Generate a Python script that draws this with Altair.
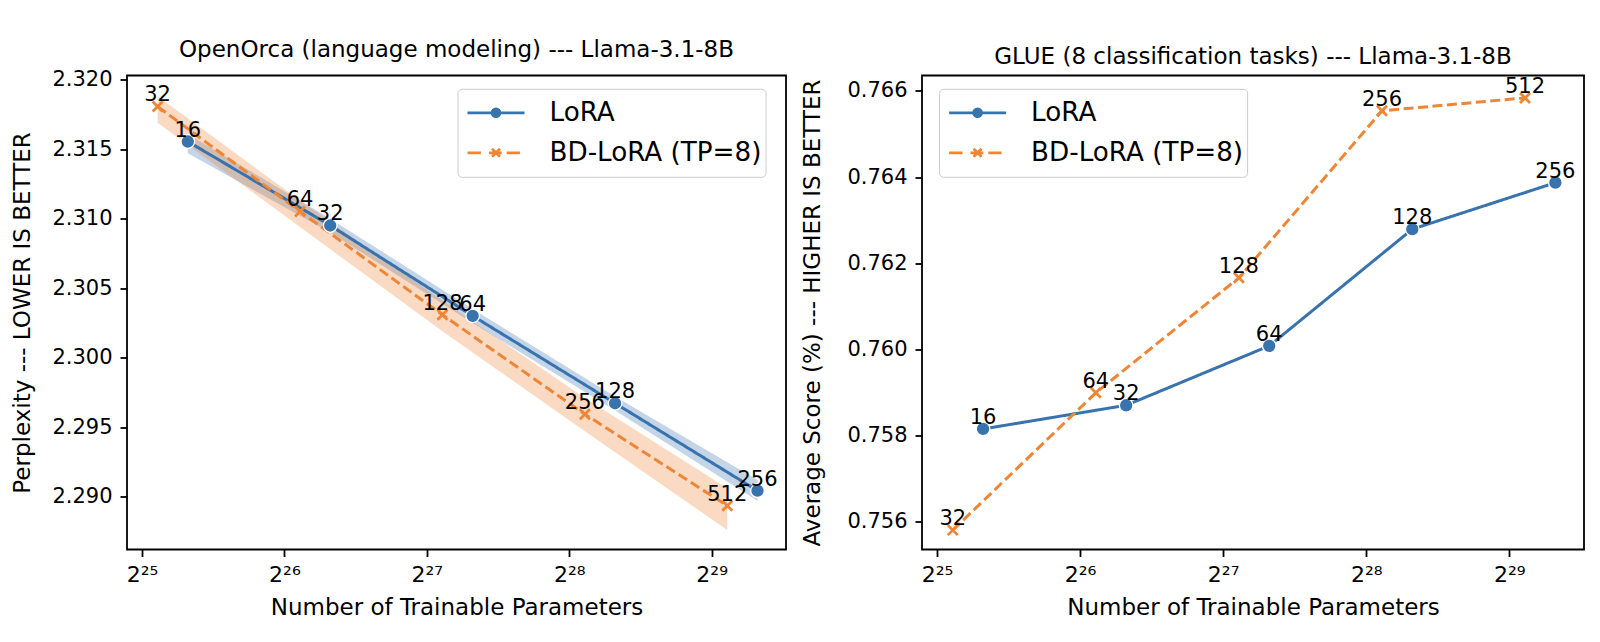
import altair as alt
import pandas as pd

FONT = "DejaVu Sans"
SERIES = ["LoRA", "BD-LoRA (TP=8)"]
COLORS = ["#3873ae", "#ee8636"]

# LoRA ranks / BD-LoRA ranks and their trainable parameter counts
lora_rank = [16, 32, 64, 128, 256]
bd_rank = [32, 64, 128, 256, 512]
lora_params = [41_943_040, 83_886_080, 167_772_160, 335_544_320, 671_088_640]
bd_params = [36_210_000, 72_420_000, 144_840_000, 289_680_000, 579_360_000]

# OpenOrca perplexity (with uncertainty band)
lora_ppl = [2.31555, 2.30951, 2.30301, 2.29672, 2.29043]
lora_ppl_lo = [2.3147, 2.3090, 2.3025, 2.2962, 2.2897]
lora_ppl_hi = [2.3161, 2.3100, 2.3035, 2.2972, 2.2912]
bd_ppl = [2.31807, 2.31052, 2.30308, 2.29593, 2.28935]
bd_ppl_lo = [2.3169, 2.3094, 2.3019, 2.2947, 2.2876]
bd_ppl_hi = [2.3188, 2.3113, 2.3041, 2.2971, 2.2906]

# GLUE average score
lora_glue = [0.75815, 0.75870, 0.76008, 0.76279, 0.76387]
bd_glue = [0.75580, 0.75899, 0.76166, 0.76554, 0.76584]

x_ticks = [2 ** e for e in range(25, 30)]
ppl_ticks = [2.290, 2.295, 2.300, 2.305, 2.310, 2.315, 2.320]
glue_ticks = [0.756, 0.758, 0.760, 0.762, 0.764, 0.766]

# legend keys: line with marker drawn as one stroked path
LORA_KEY = ("M-1,0L1,0"
            "M0.139,0A0.139,0.139,0,1,1,-0.139,0A0.139,0.139,0,1,1,0.139,0"
            "M0.06,0A0.06,0.06,0,1,1,-0.06,0A0.06,0.06,0,1,1,0.06,0")
BD_KEY = ("M-1,0L-0.53,0M-0.25,0L0.2,0M0.375,0L0.84,0"
          "M-0.14,-0.14L0.14,0.14M-0.14,0.14L0.14,-0.14")
X_MARK = "M-1,-1L1,1M-1,1L1,-1"

n = len(lora_rank)
ppl_df = pd.DataFrame({
    "series": [SERIES[0]] * n + [SERIES[1]] * n,
    "rank": lora_rank + bd_rank,
    "params": lora_params + bd_params,
    "value": lora_ppl + bd_ppl,
    "lo": lora_ppl_lo + bd_ppl_lo,
    "hi": lora_ppl_hi + bd_ppl_hi,
})
glue_df = pd.DataFrame({
    "series": [SERIES[0]] * n + [SERIES[1]] * n,
    "rank": lora_rank + bd_rank,
    "params": lora_params + bd_params,
    "value": lora_glue + bd_glue,
})

x_scale = alt.Scale(type="log", base=2, domain=[2 ** 24.895, 2 ** 29.522], nice=False)
x_axis = alt.Axis(
    values=x_ticks,
    labelExpr="'2' + ['²⁵','²⁶','²⁷','²⁸','²⁹'][round(log(datum.value)/LN2) - 25]",
    title="Number of Trainable Parameters",
    labelFlush=False,
    labelPadding=8,
    labelFontSize=22,
    titlePadding=11,
)
pal = alt.Scale(domain=SERIES, range=COLORS)


def panel(df, title, ytitle, ydomain, yticks, legend_x, ytitle_pad, width, band):
    x = alt.X("params:Q", scale=x_scale, axis=x_axis)
    y_scale = alt.Scale(domain=ydomain, nice=False, zero=False)
    y_axis = alt.Axis(values=yticks, format=".3f", title=ytitle,
                      titlePadding=ytitle_pad, labelPadding=8)
    y = alt.Y("value:Q", scale=y_scale, axis=y_axis)
    stroke = alt.Stroke("series:N", scale=pal, legend=None)
    fill = alt.Fill("series:N", scale=pal, legend=None)
    base = alt.Chart(df)

    layers = []
    if band:
        layers.append(
            base.mark_area(opacity=0.3).encode(
                x=x,
                y=alt.Y("lo:Q", scale=y_scale, axis=y_axis),
                y2="hi:Q",
                fill=fill,
            )
        )
    layers.append(
        base.mark_line(strokeWidth=3).encode(
            x=x, y=y, stroke=stroke,
            strokeDash=alt.StrokeDash(
                "series:N",
                scale=alt.Scale(domain=SERIES, range=[[1, 0], [10, 4.5]]),
                legend=None,
            ),
        )
    )
    layers.append(
        base.transform_filter(alt.datum.series == SERIES[0])
        .mark_point(shape="circle", filled=True, size=185, stroke="white",
                    strokeWidth=1.3, opacity=1)
        .encode(x=x, y=y, fill=fill)
    )
    layers.append(
        base.transform_filter(alt.datum.series == SERIES[1])
        .mark_point(shape=X_MARK, filled=False, size=100, strokeWidth=2.8, opacity=1)
        .encode(x=x, y=y, stroke=stroke)
    )
    layers.append(
        base.mark_text(font=FONT, fontSize=21, dy=-5, baseline="alphabetic",
                       color="black")
        .encode(x=x, y=y, text="rank:Q")
    )
    legend_kw = dict(
        orient="none", legendX=legend_x, legendY=13.3, title=None,
        labelFont=FONT, labelFontSize=26.2, labelColor="black", labelLimit=600,
        labelExpr="datum.label + '\u2002'",
        symbolSize=3249, symbolStrokeWidth=2.7, clipHeight=40, rowPadding=0,
        padding=4, symbolOffset=4.5, labelOffset=23.5,
        strokeColor="#cccccc", fillColor="white", cornerRadius=4,
    )
    layers.append(
        base.transform_filter("false")
        .mark_point(filled=False, strokeWidth=2.7, opacity=1)
        .encode(
            x=x, y=y,
            color=alt.Color("series:N", scale=pal, legend=alt.Legend(**legend_kw)),
            shape=alt.Shape("series:N",
                            scale=alt.Scale(domain=SERIES, range=[LORA_KEY, BD_KEY]),
                            legend=alt.Legend(**legend_kw)),
        )
    )
    return alt.layer(*layers).properties(
        width=width, height=474,
        title=alt.TitleParams(text=title, font=FONT, fontSize=23, fontWeight="normal",
                              color="black", anchor="middle", frame="group", offset=7),
    )


left = panel(ppl_df, "OpenOrca (language modeling) --- Llama-3.1-8B",
             "Perplexity --- LOWER IS BETTER", [2.2862, 2.3203], ppl_ticks,
             330.5, 17, 659, True)
right = panel(glue_df, "GLUE (8 classification tasks) --- Llama-3.1-8B",
              "Average Score (%) --- HIGHER IS BETTER", [0.75535, 0.76636], glue_ticks,
              17.1, 22, 662, False)

chart = (
    alt.hconcat(left, right, spacing=13)
    .resolve_scale(color="independent", shape="independent")
    .resolve_legend(color="independent", shape="independent")
    .properties(padding={"left": 10, "top": 37.5, "right": 5, "bottom": 5}, background="white")
    .configure(font=FONT)
    .configure_view(stroke="black", strokeWidth=1.8)
    .configure_axis(
        labelFont=FONT, titleFont=FONT, labelFontSize=21, titleFontSize=23,
        labelColor="black", titleColor="black", tickColor="black",
        tickWidth=1.8, tickSize=7, domain=False, grid=False, titleFontWeight="normal",
    )
)

chart.save("out.html", embed_options={"renderer": "svg", "actions": False})
